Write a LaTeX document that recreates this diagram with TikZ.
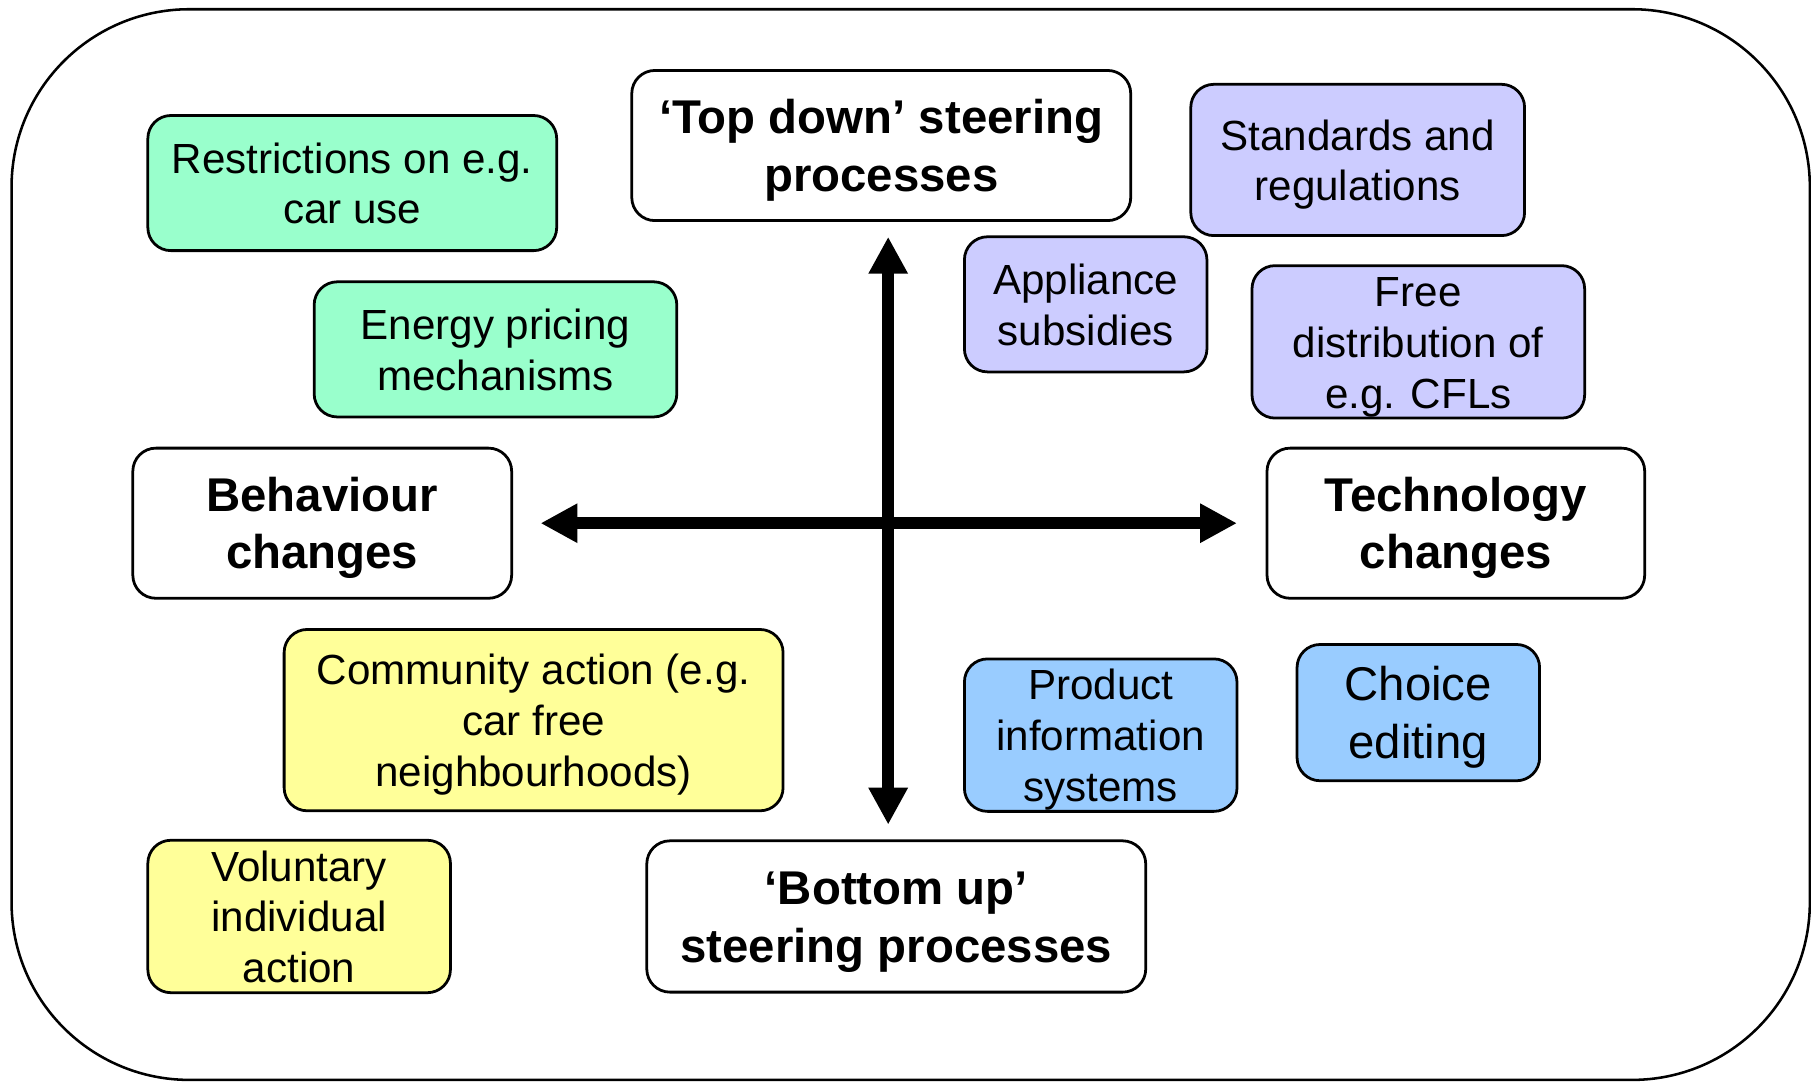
\documentclass[tikz,border=0pt]{standalone}
\usepackage{fontspec}
\setmainfont{Liberation Sans}
\usetikzlibrary{arrows.meta}
\definecolor{mint}{HTML}{99FFCC}
\definecolor{lav}{HTML}{CCCCFF}
\definecolor{yel}{HTML}{FFFF99}
\definecolor{sky}{HTML}{99CCFF}
\newcommand{\boxtext}[1]{\raisebox{-2.3pt}[\height][\depth]{\begin{tabular}{@{}c@{}}#1\end{tabular}}}
\begin{document}
\begin{tikzpicture}[x=0.5pt,y=-0.5pt,
  box/.style={draw=black, line width=1.2pt, rounded corners=10pt, inner xsep=2pt, inner ysep=0pt, font=\fontsize{18.25}{22}\selectfont},
  head/.style={box, fill=white, font=\fontsize{20.5}{25}\selectfont\bfseries},
  axis/.style={line width=5pt, {Triangle[length=16pt,width=16pt]}-{Triangle[length=16pt,width=16pt]}}]
\useasboundingbox (0,0) rectangle (1568,936);
\draw[line width=1.1pt, rounded corners=77pt] (10,8) rectangle (1567,935);
% axes
\coordinate (vt) at (769,205);
\coordinate (vb) at (769,714);
\coordinate (hl) at (468,453);
\coordinate (hr) at (1071,453);
\draw[axis] (vt) -- (vb);
\draw[axis] (hl) -- (hr);
% heads
\node[head, minimum width=216pt, minimum height=65pt] (top) at (763,126) {\boxtext{‘Top down’ steering\\processes}};
\node[head, minimum width=216pt, minimum height=65.5pt] (bot) at (776,793.5) {\boxtext{‘Bottom up’\\steering processes}};
\node[head, minimum width=164pt, minimum height=65pt] (behav) at (279,453) {\boxtext{Behaviour\\changes}};
\node[head, minimum width=163.5pt, minimum height=65pt] (tech) at (1260.5,453) {\boxtext{Technology\\changes}};
% green
\node[box, fill=mint, minimum width=177pt, minimum height=58.5pt] (restr) at (305,158.5) {\boxtext{Restrictions on e.g.\\car use}};
\node[box, fill=mint, minimum width=157pt, minimum height=58.5pt] (energy) at (429,302.5) {\boxtext{Energy pricing\\mechanisms}};
% lavender
\node[box, fill=lav, minimum width=144.5pt, minimum height=65.5pt] (std) at (1175.5,138.5) {\boxtext{Standards and\\regulations}};
\node[box, fill=lav, minimum width=105pt, minimum height=58.5pt] (appl) at (940,263.5) {\boxtext{Appliance\\subsidies}};
\node[box, fill=lav, minimum width=144pt, minimum height=65pt] (free) at (1228,296) {\boxtext{Free\\distribution of\\e.g. CFLs}};
% yellow
\node[box, fill=yel, minimum width=216pt, minimum height=78.5pt] (comm) at (462,623.5) {\boxtext{Community action (e.g.\\car free\\neighbourhoods)}};
\node[box, fill=yel, minimum width=131pt, minimum height=65.5pt] (vol) at (259,793.5) {\boxtext{Voluntary\\individual\\action}};
% blue
\node[box, fill=sky, minimum width=118pt, minimum height=65.5pt] (prod) at (953,636.5) {\boxtext{Product\\information\\systems}};
\node[box, fill=sky, minimum width=105pt, minimum height=59pt, font=\fontsize{20.5}{25}\selectfont] (choice) at (1228,617) {\boxtext{Choice\\editing}};
\end{tikzpicture}
\end{document}
